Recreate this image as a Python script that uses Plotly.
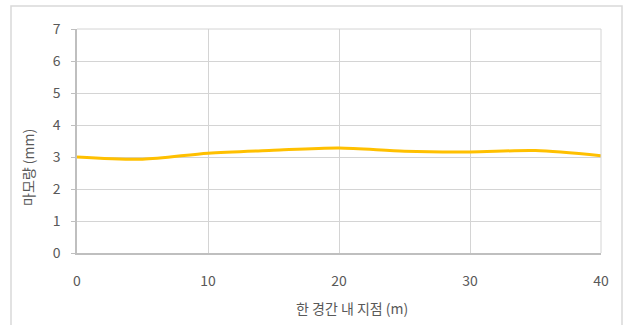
import plotly.graph_objects as go

x_pos = [0, 5, 10, 15, 20, 25, 30, 35, 40]
wear = [3.0, 2.93, 3.12, 3.21, 3.28, 3.18, 3.16, 3.2, 3.04]
x_ticks = [0, 10, 20, 30, 40]
y_ticks = [0, 1, 2, 3, 4, 5, 6, 7]
x_title = "한 경간 내 지점 (m)"
y_title = "마모량 (mm)"

FONT = "Noto Sans CJK KR"
GRAY = "#595959"
GRID = "#d4d4d4"

fig = go.Figure()
fig.add_trace(go.Scatter(
    x=x_pos, y=wear, mode="lines",
    line=dict(color="#FFC000", width=3, shape="spline", smoothing=0.8),
    hoverinfo="skip", showlegend=False,
))
# empty trace so the tick-mark overlay axis gets drawn
fig.add_trace(go.Scatter(x=[], y=[], yaxis="y2", showlegend=False, hoverinfo="skip"))

W, H = 625, 325
L, R, T, B = 77, 24, 29, 72
pw, ph = W - L - R, H - T - B

fig.update_layout(
    width=W, height=H,
    margin=dict(l=L, r=R, t=T, b=B),
    paper_bgcolor="white", plot_bgcolor="white",
    font=dict(family=FONT, size=14, color=GRAY),
    xaxis=dict(
        range=[0, 40], tickvals=x_ticks, showgrid=True, gridcolor=GRID,
        gridwidth=1, zeroline=False, showline=True, linecolor="#bfbfbf",
        linewidth=1.5, ticks="outside", ticklen=14, tickcolor="rgba(0,0,0,0)",
        tickfont=dict(family=FONT, size=14, color=GRAY),
    ),
    yaxis=dict(
        range=[0, 7], tickvals=y_ticks, showgrid=True, gridcolor=GRID,
        gridwidth=1, zeroline=False, showline=True, linecolor="#bfbfbf",
        linewidth=1.5, ticks="outside", ticklen=12, tickcolor="rgba(0,0,0,0)",
        tickfont=dict(family=FONT, size=14, color=GRAY),
    ),
    yaxis2=dict(
        range=[0, 7], tickvals=y_ticks, overlaying="y", side="left",
        showgrid=False, zeroline=False, showline=False, showticklabels=False,
        ticks="outside", ticklen=5, tickcolor="#bfbfbf", tickwidth=1,
    ),
    annotations=[
        dict(text=x_title, xref="paper", yref="paper",
             x=(352 - L) / pw, y=-(308 - (T + ph)) / ph,
             showarrow=False, xanchor="center", yanchor="middle",
             font=dict(family=FONT, size=14, color=GRAY)),
        dict(text=y_title, xref="paper", yref="paper",
             x=(28 - L) / pw, y=((T + ph) - 168) / ph, textangle=-90,
             showarrow=False, xanchor="center", yanchor="middle",
             font=dict(family=FONT, size=14, color=GRAY)),
    ],
    shapes=[
        dict(type="rect", xref="paper", yref="paper",
             x0=(11 - L) / pw, x1=(622 - L) / pw,
             y0=-0.6, y1=((T + ph) - 6) / ph,
             line=dict(color="#d9d9d9", width=1.5), layer="below"),
        dict(type="line", xref="paper", yref="paper",
             x0=1, x1=1, y0=0, y1=1, line=dict(color=GRID, width=1)),
        dict(type="line", xref="paper", yref="paper",
             x0=0, x1=1, y0=1, y1=1, line=dict(color=GRID, width=1)),
    ],
)

fig.write_html("out.html")
